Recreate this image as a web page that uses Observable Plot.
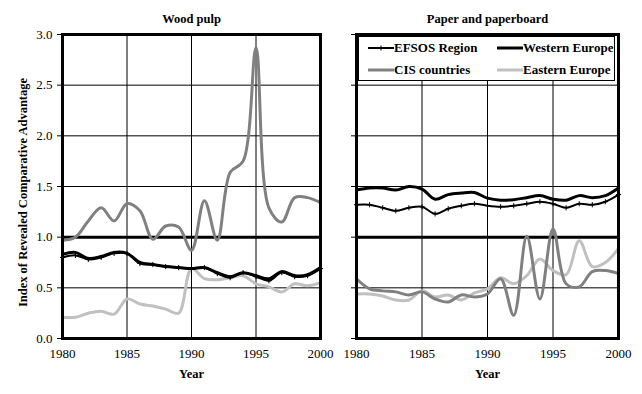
<!DOCTYPE html>
<html>
<head>
<meta charset="utf-8">
<script src="https://cdn.jsdelivr.net/npm/d3@7"></script>
<script src="https://cdn.jsdelivr.net/npm/@observablehq/plot@0.6"></script>
<style>
  body { margin: 0; background: #fff; }
  #wrap { position: relative; width: 642px; height: 394px; background: #fff; overflow: hidden; font-family: 'Liberation Serif', 'DejaVu Serif', serif; }
  #wrap svg text { font-family: 'Liberation Serif', 'DejaVu Serif', serif; }
  #left, #right { position: absolute; top: 0; }
  #left { left: 0; }
  #right { left: 330px; }
  #legend { position: absolute; left: 358px; top: 36px; width: 257px; height: 45px; border: 1px solid #000; background: #fff; box-sizing: border-box; }
  .item { position: absolute; display: flex; align-items: center; font-weight: bold; font-size: 13px; white-space: nowrap; }
  .item svg { display: block; }
</style>
</head>
<body>
<div id="wrap">
  <div id="left"></div>
  <div id="right"></div>
  <div id="legend"></div>
</div>
<script>
const years = [1980,1981,1982,1983,1984,1985,1986,1987,1988,1989,1990,1991,1992,1993,1994,1995,1996,1997,1998,1999,2000];
const seriesNames = ["EFSOS Region", "Western Europe", "CIS countries", "Eastern Europe"];
const panelTitles = ["Wood pulp", "Paper and paperboard"];
const yTicks = [0, 0.5, 1.0, 1.5, 2.0, 2.5, 3.0];
const xTicks = [1980, 1985, 1990, 1995, 2000];

// Wood pulp
const pulpEFSOS    = [0.80,0.82,0.78,0.80,0.84,0.84,0.74,0.73,0.71,0.70,0.69,0.70,0.64,0.60,0.65,0.61,0.57,0.65,0.61,0.62,0.69];
const pulpWestern  = [0.83,0.85,0.79,0.81,0.85,0.84,0.75,0.73,0.71,0.70,0.69,0.70,0.65,0.61,0.65,0.62,0.59,0.66,0.62,0.63,0.70];
const pulpCIS      = [0.97,1.00,1.16,1.29,1.16,1.33,1.26,0.98,1.11,1.10,0.87,1.36,0.97,1.64,1.75,2.87,1.29,1.15,1.39,1.39,1.34];
const pulpEastern  = [0.21,0.21,0.25,0.27,0.24,0.39,0.34,0.32,0.29,0.25,0.69,0.59,0.58,0.60,0.62,0.54,0.51,0.46,0.54,0.52,0.55];

// Paper and paperboard
const paperEFSOS   = [1.32,1.32,1.29,1.26,1.29,1.30,1.23,1.28,1.31,1.33,1.31,1.30,1.31,1.33,1.35,1.33,1.29,1.33,1.32,1.35,1.42];
const paperWestern = [1.465,1.485,1.485,1.465,1.50,1.475,1.375,1.42,1.435,1.44,1.385,1.365,1.37,1.39,1.41,1.375,1.365,1.41,1.39,1.41,1.485];
const paperCIS     = [0.59,0.49,0.47,0.46,0.43,0.46,0.39,0.36,0.43,0.41,0.44,0.59,0.23,1.01,0.39,1.08,0.54,0.51,0.66,0.67,0.64];
const paperEastern = [0.44,0.44,0.42,0.38,0.38,0.47,0.41,0.43,0.38,0.45,0.49,0.60,0.54,0.62,0.785,0.67,0.63,0.965,0.71,0.75,0.89];

const colors = {"EFSOS Region": "#000", "Western Europe": "#000", "CIS countries": "#808080", "Eastern Europe": "#c0c0c0"};
const widths = {"EFSOS Region": 2, "Western Europe": 3, "CIS countries": 3, "Eastern Europe": 3};
const FONT = "'Liberation Serif', 'DejaVu Serif', serif";

function rows(arrs) {
  const out = [];
  seriesNames.forEach((s, i) => years.forEach((yr, j) => out.push({series: s, year: yr, value: arrs[i][j]})));
  return out;
}

function panel(data, title, opts) {
  const drawOrder = ["Eastern Europe", "CIS countries", "Western Europe", "EFSOS Region"];
  const lineMarks = drawOrder.map(s => Plot.line(data.filter(d => d.series === s), {
    x: "year", y: "value", stroke: colors[s], strokeWidth: widths[s], curve: "catmull-rom"
  }));
  const marks = [
    Plot.gridX(xTicks, {stroke: "#000", strokeOpacity: 1, strokeWidth: 1}),
    Plot.gridY(yTicks, {stroke: "#000", strokeOpacity: 1, strokeWidth: 1}),
    Plot.ruleY([1], {stroke: "#000", strokeWidth: 3}),
    ...lineMarks,
    Plot.dot(data.filter(d => d.series === "EFSOS Region"), {x: "year", y: "value", symbol: "plus", r: 1.8, stroke: "#000", strokeWidth: 1}),
    Plot.frame({stroke: "#000", strokeWidth: 3}),
    Plot.axisY(yTicks, {tickSize: 5, tickPadding: 5, tickFormat: opts.yLabels ? d3.format(".1f") : () => "", label: null, fontSize: 13}),
    Plot.axisX(xTicks, {tickSize: 0, tickPadding: 10, tickFormat: "d", label: null, fontSize: 13}),
    Plot.text([title], {frameAnchor: "top", dy: -20, fontWeight: "bold", fontSize: 12.5}),
    Plot.text(["Year"], {frameAnchor: "bottom", dy: 39, fontWeight: "bold", fontSize: 12.5})
  ];
  if (opts.yTitle) {
    marks.push(Plot.text([opts.yTitle], {frameAnchor: "left", textAnchor: "middle", dx: -40, dy: 6, rotate: -90, fontWeight: "bold", fontSize: 12.5}));
  }
  return Plot.plot({
    width: opts.width, height: 394,
    marginLeft: opts.ml, marginRight: opts.mr, marginTop: 34, marginBottom: 56,
    x: {domain: [1980, 2000]},
    y: {domain: [0, 3]},
    style: {fontFamily: FONT, fontSize: "13px", color: "#000", background: "transparent", overflow: "visible"},
    marks
  });
}

document.getElementById("left").appendChild(
  panel(rows([pulpEFSOS, pulpWestern, pulpCIS, pulpEastern]), panelTitles[0],
    {width: 340, ml: 62, mr: 20, yLabels: true, yTitle: "Index of Revealed Comparative Advantage"}));
document.getElementById("right").appendChild(
  panel(rows([paperEFSOS, paperWestern, paperCIS, paperEastern]), panelTitles[1],
    {width: 312, ml: 26, mr: 24, yLabels: false}));

// Legend
const legend = document.getElementById("legend");
const pos = [[9, 11], [138, 11], [9, 33], [138, 33]];
seriesNames.forEach((s, i) => {
  const el = document.createElement("div");
  el.className = "item";
  el.style.left = pos[i][0] + "px";
  el.style.top = (pos[i][1] - 8) + "px";
  el.style.height = "16px";
  const ns = "http://www.w3.org/2000/svg";
  const svg = document.createElementNS(ns, "svg");
  svg.setAttribute("width", 26); svg.setAttribute("height", 16);
  const ln = document.createElementNS(ns, "line");
  ln.setAttribute("x1", 0); ln.setAttribute("x2", 26); ln.setAttribute("y1", 8); ln.setAttribute("y2", 8);
  ln.setAttribute("stroke", colors[s]); ln.setAttribute("stroke-width", widths[s]);
  svg.appendChild(ln);
  if (s === "EFSOS Region") {
    const p = document.createElementNS(ns, "path");
    p.setAttribute("d", "M13,5.5V10.5M10.5,8H15.5");
    p.setAttribute("stroke", "#000"); p.setAttribute("stroke-width", 1);
    svg.appendChild(p);
  }
  el.appendChild(svg);
  const t = document.createElement("span");
  t.textContent = s;
  el.appendChild(t);
  legend.appendChild(el);
});
</script>
</body>
</html>
